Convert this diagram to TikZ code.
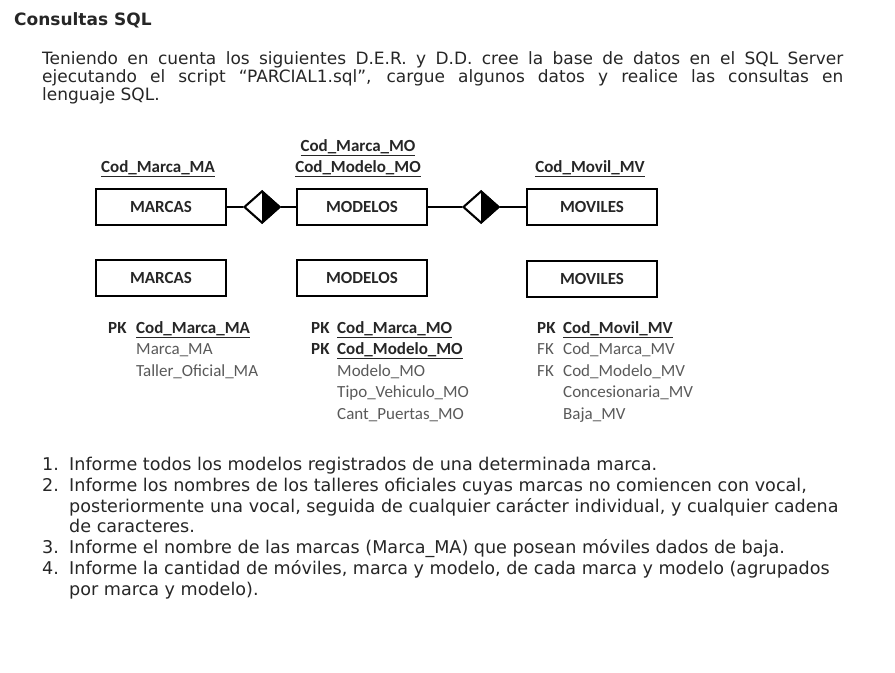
\documentclass[tikz,border=0pt]{standalone}
\usepackage{fontspec}
\setmainfont{DejaVu Sans}
\newfontfamily\calibri{Carlito}
\usetikzlibrary{positioning, calc, shapes.geometric}

\begin{document}
\begin{tikzpicture}
	[
	x=0.03cm, y=-0.03cm,																%1 Einheit = 1 Pixel der Vorlage
	Texto/.style={font=\fontsize{14.5}{17}\selectfont, text=black!85, anchor=base west, inner sep=0pt},	%Fliesstext
	Lista/.style={Texto, font=\fontsize{15}{18}\selectfont},							%Aufgabenliste
	Entidad/.style={draw, line width=2.5pt, minimum width=3.9cm, minimum height=1.08cm, inner sep=0pt,
		font=\calibri\bfseries\fontsize{14.5}{17}\selectfont, text=black!85},			%Kasten einer Entitaet
	Relacion/.style={diamond, draw, line width=1.8pt, minimum width=1.08cm, minimum height=0.96cm, inner sep=0pt, fill=white},	%Raute
	Clave/.style={font=\calibri\bfseries\fontsize{14.5}{17}\selectfont, text=black!85, inner sep=0pt},	%Schluesselfelder
	Atributo/.style={font=\calibri\fontsize{14.5}{17}\selectfont, text=black!65, anchor=base west, inner sep=0pt},	%uebrige Felder
	Linea/.style={line width=1pt}														%Verbindungslinien
	]

	%% Abstaende %%
	\def\Ancho{24.03cm};	%Breite des Blocksatzes
	\def\Paso{21.5};		%Zeilenabstand der Feldlisten

	\useasboundingbox (0,0) rectangle (895,673);

	%%%%%%%%%%%%%%%%%%%%%%%%%% Titel und Einleitung %%%%%%%%%%%%%%%%%%%%%%%%%%
	\node[Texto, font=\bfseries\fontsize{14.5}{17}\selectfont] (titulo) at (14,25) {Consultas SQL};
	\node[Texto] (intro1) at (42,64)  {\makebox[\Ancho][s]{Teniendo en cuenta los siguientes D.E.R. y D.D. cree la base de datos en el SQL Server}};
	\node[Texto] (intro2) at (42,82)  {\makebox[\Ancho][s]{ejecutando el script “PARCIAL1.sql”, cargue algunos datos y realice las consultas en}};
	\node[Texto] (intro3) at (42,100) {lenguaje SQL.};

	%%%%%%%%%%%%%%%%%%%%%%%%%% D.E.R. %%%%%%%%%%%%%%%%%%%%%%%%%%%%%%%%%%%%%%%
	\node[Entidad]  (marcas)  at (161,207) {MARCAS};
	\node[Entidad]  (modelos) at (362,207) {MODELOS};
	\node[Entidad]  (moviles) at (592,207) {MOVILES};
	\node[Relacion] (rel1)    at (262,207) {};
	\node[Relacion] (rel2)    at (481,207) {};
	% rechte Haelfte der Rauten schwarz
	\fill (rel1.north) -- (rel1.east) -- (rel1.south) -- cycle;
	\fill (rel2.north) -- (rel2.east) -- (rel2.south) -- cycle;
	\draw[Linea] (marcas) -- (rel1);
	\draw[Linea] (rel1) -- (modelos);
	\draw[Linea] (modelos) -- (rel2);
	\draw[Linea] (rel2) -- (moviles);
	% Schluessel ueber den Entitaeten
	\node[Clave, anchor=base] (kma)  at (158,172) {\underline{Cod\_Marca\_MA}};
	\node[Clave, anchor=base] (kmo1) at (358,151) {\underline{Cod\_Marca\_MO}};
	\node[Clave, anchor=base] (kmo2) at (358,172) {\underline{Cod\_Modelo\_MO}};
	\node[Clave, anchor=base] (kmv)  at (590,172) {\underline{Cod\_Movil\_MV}};

	%%%%%%%%%%%%%%%%%%%%%%%%%% D.D. %%%%%%%%%%%%%%%%%%%%%%%%%%%%%%%%%%%%%%%%%
	\node[Entidad] (tmarcas)  at (161,278) {MARCAS};
	\node[Entidad] (tmodelos) at (362,278) {MODELOS};
	\node[Entidad] (tmoviles) at (592,279) {MOVILES};
	% Felder MARCAS
	\node[Clave, anchor=base west] (pkma) at (108,333) {PK};
	\node[Clave, anchor=base west] (cma)  at (136,333) {\underline{Cod\_Marca\_MA}};
	\foreach \txt [count=\i] in {Marca\_MA, Taller\_Oficial\_MA}
		\node[Atributo] (ma\i) at (136,{333+\Paso*\i}) {\txt};
	% Felder MODELOS
	\node[Clave, anchor=base west] (pkmo1) at (311,333) {PK};
	\node[Clave, anchor=base west] (cmo1)  at (337,333) {\underline{Cod\_Marca\_MO}};
	\node[Clave, anchor=base west] (pkmo2) at (311,{333+\Paso}) {PK};
	\node[Clave, anchor=base west] (cmo2)  at (337,{333+\Paso}) {\underline{Cod\_Modelo\_MO}};
	\foreach \txt [count=\i from 2] in {Modelo\_MO, Tipo\_Vehiculo\_MO, Cant\_Puertas\_MO}
		\node[Atributo] (mo\i) at (337,{333+\Paso*\i}) {\txt};
	% Felder MOVILES
	\node[Clave, anchor=base west] (pkmv) at (537,333) {PK};
	\node[Clave, anchor=base west] (cmv)  at (563,333) {\underline{Cod\_Movil\_MV}};
	\node[Atributo] (fkmv1) at (537,{333+\Paso}) {FK};
	\node[Atributo] (fkmv2) at (537,{333+2*\Paso}) {FK};
	\foreach \txt [count=\i] in {Cod\_Marca\_MV, Cod\_Modelo\_MV, Concesionaria\_MV, Baja\_MV}
		\node[Atributo] (mv\i) at (563,{333+\Paso*\i}) {\txt};

	%%%%%%%%%%%%%%%%%%%%%%%%%% Consultas %%%%%%%%%%%%%%%%%%%%%%%%%%%%%%%%%%%%
	\node[Lista] (n1) at (42,470) {1.};
	\node[Lista] (c1) at (69,470) {Informe todos los modelos registrados de una determinada marca.};
	\node[Lista] (n2) at (42,491) {2.};
	\node[Lista] (c2a) at (69,491) {Informe los nombres de los talleres oficiales cuyas marcas no comiencen con vocal,};
	\node[Lista] (c2b) at (69,512) {posteriormente una vocal, seguida de cualquier carácter individual, y cualquier cadena};
	\node[Lista] (c2c) at (69,532) {de caracteres.};
	\node[Lista] (n3) at (42,553) {3.};
	\node[Lista] (c3) at (69,553) {Informe el nombre de las marcas (Marca\_MA) que posean móviles dados de baja.};
	\node[Lista] (n4) at (42,574) {4.};
	\node[Lista] (c4a) at (69,574) {Informe la cantidad de móviles, marca y modelo, de cada marca y modelo (agrupados};
	\node[Lista] (c4b) at (69,595) {por marca y modelo).};
\end{tikzpicture}
\end{document}
